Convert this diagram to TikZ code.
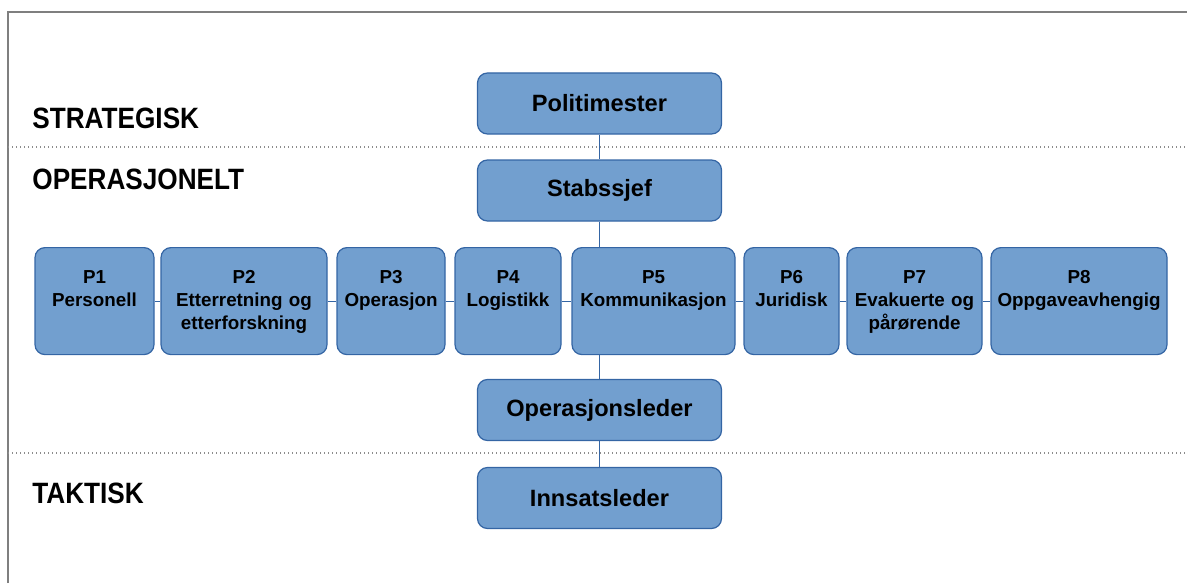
\documentclass[tikz,border=0pt]{standalone}
\usepackage{fontspec}
\setmainfont{Liberation Sans}
\newfontfamily\headfont{Liberation Sans}[FakeStretch=0.89]
\usepackage{xcolor}
\usepackage{tikz}
\usetikzlibrary{positioning}
\definecolor{Box}   {HTML}{729FCF}
\definecolor{Edge}  {HTML}{3465A4}
\definecolor{Frame} {HTML}{7F7F7F}
\definecolor{Cut}   {HTML}{8C8C8C}

\tikzset{
  post/.style={draw=Edge, fill=Box, rounded corners=5pt, line width=0.6pt,
               minimum width=122pt, minimum height=30.5pt, inner sep=0pt,
               font=\bfseries\fontsize{11.8}{14}\selectfont},
  pbox/.style={draw=Edge, fill=Box, rounded corners=5pt, line width=0.6pt,
               anchor=north, inner sep=0pt, align=center,
               text height=18pt, text depth=35.5pt,
               font=\bfseries\fontsize{9.4}{11.5}\selectfont},
  level/.style={anchor=base west, inner sep=0pt,
                font=\headfont\bfseries\fontsize{14.7}{17}\selectfont},
  link/.style={draw=Edge, line width=0.5pt},
  cut/.style={Cut, line width=0.6pt, dash pattern=on 0.6pt off 1.4pt}
}

\begin{document}
\begin{tikzpicture}[x=0.5pt, y=-0.5pt]
  \useasboundingbox (0,0) rectangle (1187,583);
  % frame
  \coordinate (fsw) at (8,583);
  \coordinate (fnw) at (8,12);
  \coordinate (fne) at (1187,12);
  \draw[Frame, line width=1pt] (fsw) -- (fnw) -- (fne);
  % level borders
  \coordinate (cut1w) at (8,147);
  \coordinate (cut1e) at (1187,147);
  \coordinate (cut2w) at (8,453);
  \coordinate (cut2e) at (1187,453);
  \draw[cut] (cut1w) -- (cut1e);
  \draw[cut] (cut2w) -- (cut2e);
  % levels
  \node[level] (strat) at (32,128.5) {STRATEGISK};
  \node[level] (oper)  at (32,189)   {OPERASJONELT};
  \node[level] (takt)  at (32,503.5) {TAKTISK};
  % chain of command
  \node[post] (polit) at (599.5,103.5) {Politimester};
  \node[post] (stab)  at (599.5,190.5) {Stabssjef};
  \node[post] (opl)   at (599.5,410)   {Operasjonsleder};
  \node[post] (inns)  at (599.5,498)   {Innsatsleder};
  % staff functions
  \node[pbox, text width=59.5pt] (p1) at (94.5,247)  {P1\\Personell};
  \node[pbox, text width=83pt]   (p2) at (244,247)   {P2\\Etterretning og\\etterforskning};
  \node[pbox, text width=54pt]   (p3) at (391,247)   {P3\\Operasjon};
  \node[pbox, text width=53pt]   (p4) at (508,247)   {P4\\Logistikk};
  \node[pbox, text width=81.5pt] (p5) at (653.5,247) {P5\\Kommunikasjon};
  \node[pbox, text width=47.5pt] (p6) at (791.5,247) {P6\\Juridisk};
  \node[pbox, text width=67.5pt] (p7) at (914.5,247) {P7\\Evakuerte og\\pårørende};
  \node[pbox, text width=88pt]   (p8) at (1079,247)  {P8\\Oppgaveavhengig};
  % connectors
  \draw[link] (polit) -- (stab);
  \draw[link] (stab) -- (stab |- p5.north);
  \draw[link] (stab |- p5.south) -- (opl);
  \draw[link] (opl) -- (inns);
  \foreach \a/\b in {p1/p2, p2/p3, p3/p4, p4/p5, p5/p6, p6/p7, p7/p8}
    \draw[link] (\a) -- (\b);
\end{tikzpicture}
\end{document}
